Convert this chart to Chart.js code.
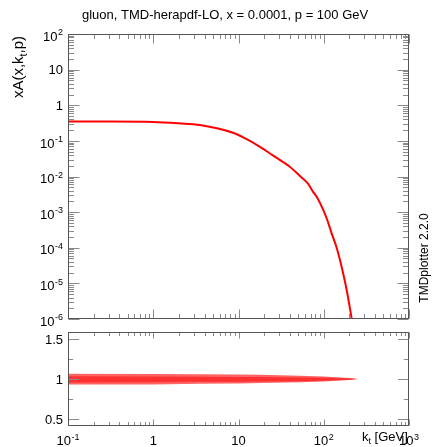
<!DOCTYPE html>
<html>
<head>
<meta charset="utf-8">
<script src="https://cdn.jsdelivr.net/npm/chart.js@4.4.1/dist/chart.umd.min.js"></script>
<style>
  html, body { margin: 0; padding: 0; background: #fff; }
  #wrap { position: relative; width: 432px; height: 447px; overflow: hidden; }
  canvas { display: block; position: absolute; left: 0; }
</style>
</head>
<body>
<div id="wrap">
  <canvas id="main" width="432" height="330" style="top:0;width:432px;height:330px;"></canvas>
  <canvas id="ratio" width="432" height="117" style="top:330px;width:432px;height:117px;"></canvas>
</div>
<script>
// ---------- data ----------
const kt = [0.1, 0.3, 1, 2, 3.53, 8.6, 12, 17.9, 25, 30.7, 40, 52.6, 65, 75, 82.6, 98.9, 110, 124, 140, 155, 186, 213, 225];
const xA = [0.35, 0.35, 0.34, 0.31, 0.278, 0.169, 0.117, 0.068, 0.04, 0.0289, 0.0187, 0.0103, 0.0064, 0.0037, 0.0027, 0.00114, 0.0006, 0.00025, 0.00011, 0.000045, 0.0000064, 0.000001, 0.00000047];

const ratioKt = [0.1, 1, 3.5, 10, 18, 53, 100, 200, 250];
const outerHi = [1.065, 1.063, 1.06, 1.058, 1.054, 1.04, 1.032, 1.014, 1.0];
const outerLo = [0.930, 0.932, 0.940, 0.945, 0.950, 0.960, 0.970, 0.987, 1.0];
const innerHi = [1.033, 1.032, 1.028, 1.026, 1.024, 1.02, 1.016, 1.007, 1.0];
const innerLo = [0.957, 0.958, 0.965, 0.967, 0.969, 0.972, 0.978, 0.992, 1.0];

// tick labels: [base, exponent]
const xDecades    = [0.1, 1, 10, 100, 1000];
const xTickLabels = [['10', '-1'], ['1', ''], ['10', ''], ['10', '2'], ['10', '3']];
const yDecades    = [1e-6, 1e-5, 1e-4, 1e-3, 1e-2, 1e-1, 1, 10, 100];
const yTickLabels = [['10', '-6'], ['10', '-5'], ['10', '-4'], ['10', '-3'], ['10', '-2'], ['10', '-1'], ['1', ''], ['10', ''], ['10', '2']];
const ratioTicks  = [0.5, 1, 1.5];
const ratioLabels = [['0.5', ''], ['1', ''], ['1.5', '']];
const ratioMinor  = [0.75, 1.25];

const TITLE  = 'gluon, TMD-herapdf-LO, x = 0.0001, p = 100 GeV';
const YTITLE = ['xA(x,k', 't', ',p)'];
const XTITLE = ['k', 't', ' [GeV]'];
const SIDE   = 'TMDplotter 2.2.0';

function logMinors(min, max) {
  const out = [];
  for (let e = Math.floor(Math.log10(min)); e <= Math.ceil(Math.log10(max)); e++) {
    for (let m = 2; m <= 9; m++) {
      const v = m * Math.pow(10, e);
      if (v > min && v < max) out.push(v);
    }
  }
  return out;
}

const FAM = '"Liberation Sans", Arial, sans-serif';
function drawLabel(ctx, lab, x, y, align) {
  const [base, exp] = lab;
  ctx.font = '13px ' + FAM;
  const wb = ctx.measureText(base).width;
  ctx.font = '9px ' + FAM;
  const we = exp ? ctx.measureText(exp).width + 0.5 : 0;
  const w = wb + we;
  const x0 = align === 'right' ? x - w : x - w / 2;
  ctx.fillStyle = '#000';
  ctx.textAlign = 'left';
  ctx.textBaseline = 'alphabetic';
  ctx.font = '13px ' + FAM;
  ctx.fillText(base, x0, y);
  if (exp) { ctx.font = '9px ' + FAM; ctx.fillText(exp, x0 + wb + 0.5, y - 5.5); }
}
// text with a subscript part: [before, sub, after]
function drawSub(ctx, parts, x, y, size) {
  ctx.textAlign = 'left';
  ctx.textBaseline = 'alphabetic';
  ctx.fillStyle = '#000';
  ctx.font = size + 'px ' + FAM;
  ctx.fillText(parts[0], x, y);
  let cx = x + ctx.measureText(parts[0]).width;
  ctx.font = Math.round(size * 0.7) + 'px ' + FAM;
  ctx.fillText(parts[1], cx, y + size * 0.25);
  cx += ctx.measureText(parts[1]).width;
  ctx.font = size + 'px ' + FAM;
  ctx.fillText(parts[2], cx, y);
}
function subWidth(ctx, parts, size) {
  ctx.font = size + 'px ' + FAM;
  let w = ctx.measureText(parts[0]).width + ctx.measureText(parts[2]).width;
  ctx.font = Math.round(size * 0.7) + 'px ' + FAM;
  return w + ctx.measureText(parts[1]).width;
}

// frame + inward ticks + labels plugin
function framePlugin(cfg) {
  return {
    id: 'frame',
    afterDraw(chart) {
      const ctx = chart.ctx, a = chart.chartArea;
      const xs = chart.scales.x, ys = chart.scales.y;
      const L = Math.round(a.left) + 0.5, R = Math.round(a.right) - 0.5;
      const T = Math.round(a.top) + 0.5, B = Math.round(a.bottom) - 0.5;
      ctx.save();
      ctx.lineWidth = 1;
      ctx.strokeStyle = '#8a8a8a';
      ctx.beginPath();
      const xt = (v, len) => {
        const p = Math.round(xs.getPixelForValue(v)) + 0.5;
        ctx.moveTo(p, B); ctx.lineTo(p, B - len);
        ctx.moveTo(p, T); ctx.lineTo(p, T + len);
      };
      const yt = (v, len) => {
        const p = Math.round(ys.getPixelForValue(v)) + 0.5;
        ctx.moveTo(L, p); ctx.lineTo(L + len, p);
        ctx.moveTo(R, p); ctx.lineTo(R - len, p);
      };
      xDecades.forEach(v => xt(v, cfg.xMaj));
      logMinors(0.1, 1000).forEach(v => xt(v, cfg.xMin));
      cfg.yMajor.forEach(v => yt(v, cfg.yMaj));
      cfg.yMinorVals.forEach(v => yt(v, cfg.yMin));
      ctx.stroke();
      ctx.strokeStyle = '#555';
      ctx.strokeRect(L, T, R - L, B - T);
      cfg.yMajor.forEach((v, i) => {
        const lab = cfg.yLabels[i];
        drawLabel(ctx, lab, a.left - 5, ys.getPixelForValue(v) + 4.7 + (lab[1] ? 2 : 0), 'right');
      });
      if (cfg.xLabels) {
        xDecades.forEach((v, i) => drawLabel(ctx, cfg.xLabels[i], xs.getPixelForValue(v), a.bottom + 19, 'center'));
      }
      if (cfg.extra) cfg.extra(ctx, chart);
      ctx.restore();
    }
  };
}

const hiddenTicks = { display: false };

// ---------- main panel ----------
new Chart(document.getElementById('main'), {
  type: 'line',
  data: {
    datasets: [{
      data: kt.map((k, i) => ({ x: k, y: xA[i] })),
      borderColor: '#ff0000',
      borderWidth: 2,
      pointRadius: 0,
      tension: 0.3,
      cubicInterpolationMode: 'monotone',
      fill: false
    }]
  },
  options: {
    responsive: false,
    maintainAspectRatio: false,
    animation: false,
    events: [],
    layout: { padding: { left: 0, top: 34, right: 23, bottom: 11 } },
    plugins: { legend: { display: false }, tooltip: { enabled: false }, title: { display: false } },
    scales: {
      x: { type: 'logarithmic', min: 0.1, max: 1000, display: false },
      y: {
        type: 'logarithmic', min: 1e-6, max: 100,
        grid: { display: false, drawTicks: false },
        border: { display: false },
        afterFit: s => { s.width = 68; },
        ticks: hiddenTicks
      }
    }
  },
  plugins: [framePlugin({
    xMaj: 9, xMin: 4.5, yMaj: 11, yMin: 5.5, yMajor: yDecades, yMinorVals: logMinors(1e-6, 100), yLabels: yTickLabels,
    extra: (ctx) => {
      ctx.fillStyle = '#000';
      ctx.textAlign = 'left';
      ctx.textBaseline = 'alphabetic';
      ctx.font = '13px ' + FAM;
      ctx.fillText(TITLE, 82, 19);
      ctx.save();
      ctx.translate(23, 67);
      ctx.rotate(-Math.PI / 2);
      const w = subWidth(ctx, YTITLE, 15);
      drawSub(ctx, YTITLE, -w / 2, 0, 15);
      ctx.restore();
      ctx.save();
      ctx.translate(428, 258);
      ctx.rotate(-Math.PI / 2);
      ctx.font = '12px ' + FAM;
      ctx.textAlign = 'center';
      ctx.fillStyle = '#000';
      ctx.fillText(SIDE, 0, 0);
      ctx.restore();
    }
  })]
});

// ---------- ratio panel ----------
const mk = arr => ratioKt.map((k, i) => ({ x: k, y: arr[i] }));
new Chart(document.getElementById('ratio'), {
  type: 'line',
  data: {
    datasets: [
      { data: mk(outerHi), borderWidth: 0, pointRadius: 0, fill: '+1', backgroundColor: 'rgba(255,60,60,0.8)', borderColor: 'rgba(0,0,0,0)' },
      { data: mk(outerLo), borderWidth: 0, pointRadius: 0, fill: false, borderColor: 'rgba(0,0,0,0)' },
      { data: mk(innerHi), borderWidth: 0, pointRadius: 0, fill: '+1', backgroundColor: '#ff0000', borderColor: 'rgba(0,0,0,0)' },
      { data: mk(innerLo), borderWidth: 0, pointRadius: 0, fill: false, borderColor: 'rgba(0,0,0,0)' }
    ]
  },
  options: {
    responsive: false,
    maintainAspectRatio: false,
    animation: false,
    events: [],
    layout: { padding: { left: 0, top: 2, right: 23, bottom: 0 } },
    plugins: { legend: { display: false }, tooltip: { enabled: false }, filler: { propagate: false } },
    scales: {
      x: {
        type: 'logarithmic', min: 0.1, max: 1000,
        grid: { display: false, drawTicks: false },
        border: { display: false },
        afterFit: s => { s.height = 21; },
        ticks: hiddenTicks
      },
      y: {
        type: 'linear', min: 0.41, max: 1.59,
        grid: { display: false, drawTicks: false },
        border: { display: false },
        afterFit: s => { s.width = 68; },
        ticks: hiddenTicks
      }
    }
  },
  plugins: [framePlugin({
    xMaj: 6, xMin: 3.5, yMaj: 10.5, yMin: 4.7, yMajor: ratioTicks, yMinorVals: ratioMinor, yLabels: ratioLabels, xLabels: xTickLabels,
    extra: (ctx) => { drawSub(ctx, XTITLE, 362, 111, 13); }
  })]
});
</script>
</body>
</html>
